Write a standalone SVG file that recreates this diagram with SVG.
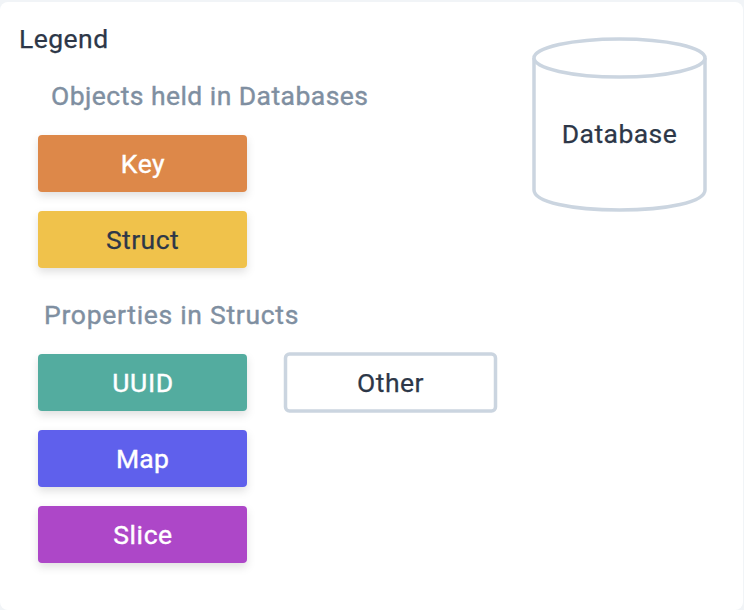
<svg xmlns="http://www.w3.org/2000/svg" width="744" height="610" viewBox="0 0 744 610">
<style>
text{font-family:Roboto,"Liberation Sans",sans-serif;font-size:26.500px;letter-spacing:.45px}
.c{text-anchor:middle}
.d{fill:#2d3748;stroke:#2d3748;stroke-width:.25px}.w{fill:#fff;stroke:#fff;stroke-width:.4px;letter-spacing:.6px}.g{fill:#7f8fa1;stroke:#7f8fa1;stroke-width:.4px;letter-spacing:.7px}
.o{fill:#fff;stroke:#cbd5e0;stroke-width:3.500}
</style>
<defs><filter id="s" x="-20%" y="-30%" width="140%" height="170%"><feDropShadow dx="0" dy="4" stdDeviation="4" flood-color="#000" flood-opacity=".12"/></filter></defs>
<rect width="744" height="610" fill="#f1f4f7"/>
<rect x="0" y="2" width="743" height="608" rx="8" fill="#fff"/>
<text id="legend-title" class="d" x="19" y="48">Legend</text>
<text id="objects-title" class="g" x="51" y="105" style="letter-spacing:.45px">Objects held in Databases</text>
<text id="properties-title" class="g" x="44" y="324">Properties in Structs</text>
<g id="connectors"/>
<g id="key"><rect x="38" y="135" width="209" height="57" rx="4" fill="#dd8849" filter="url(#s)"/><text class="c w" x="143" y="172.500">Key</text></g>
<g id="struct"><rect x="38" y="211" width="209" height="57" rx="4" fill="#f0c24b" filter="url(#s)"/><text class="c d" x="142.500" y="248.500">Struct</text></g>
<g id="uuid"><rect x="38" y="354" width="209" height="57" rx="4" fill="#52ac9f" filter="url(#s)"/><text class="c w" x="143" y="391.500">UUID</text></g>
<g id="map"><rect x="38" y="430" width="209" height="57" rx="4" fill="#5f60ec" filter="url(#s)"/><text class="c w" x="142.500" y="467.500" style="letter-spacing:.2px">Map</text></g>
<g id="slice"><rect x="38" y="506" width="209" height="57" rx="4" fill="#ad46c8" filter="url(#s)"/><text class="c w" x="143" y="543.500">Slice</text></g>
<g id="other"><rect class="o" x="285.500" y="354" width="210" height="57" rx="4"/><text class="c d" x="390.500" y="391.500">Other</text></g>
<g id="database"><path class="o" d="M534 58V190C534 202 572 210 619.500 210S705 202 705 190V58"/><ellipse class="o" cx="619.500" cy="58" rx="85.500" ry="19"/><text class="c d" x="619.500" y="143">Database</text></g>
</svg>
